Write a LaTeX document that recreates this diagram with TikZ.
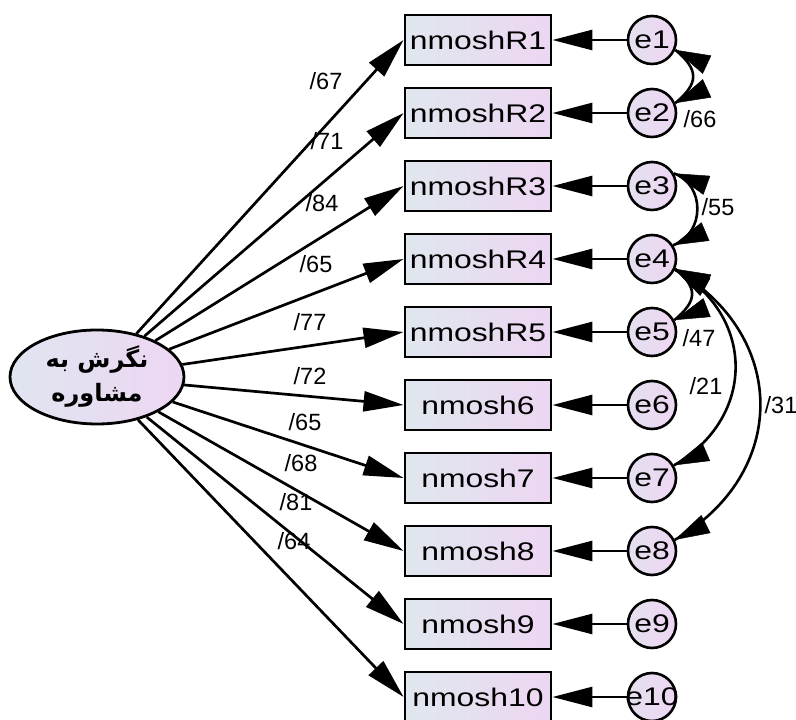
\documentclass[tikz,border=0pt]{standalone}
\usepackage{fontspec}
\setmainfont{Liberation Sans}
\newfontfamily\widefont[FakeStretch=1.25]{Liberation Sans}
\newfontfamily\arabicfont[Script=Arabic]{DejaVu Sans}
\TeXXeTstate=1
\usetikzlibrary{arrows.meta,calc,shapes.geometric}

\definecolor{boxL}{RGB}{224,231,238}
\definecolor{boxR}{RGB}{237,214,242}
\definecolor{errL}{RGB}{228,224,240}
\definecolor{errR}{RGB}{238,214,242}
\definecolor{latL}{RGB}{224,229,240}
\definecolor{latR}{RGB}{237,214,242}

\tikzset{
  obs/.style={draw, line width=2.9pt, left color=boxL, right color=boxR,
    minimum width=146pt, minimum height=50pt, inner sep=0pt,
    font=\widefont\fontsize{25.5}{30}\selectfont},
  err/.style={circle, draw, line width=2.6pt, left color=errL, right color=errR,
    minimum size=48pt, inner sep=0pt,
    font=\widefont\fontsize{25.5}{30}\selectfont},
  lat/.style={ellipse, draw, line width=2.8pt, left color=latL, right color=latR,
    minimum width=174pt, minimum height=94pt, inner sep=0pt, align=center,
    font=\arabicfont\bfseries\fontsize{24}{34}\selectfont},
  arr/.style={line width=2.7pt, -{Triangle[length=40pt,width=20pt]}},
  cov/.style={line width=2.6pt},
  covtip/.style={line width=0.5pt, -{Triangle[length=35pt,width=20pt]}},
  lbl/.style={font=\fontsize{23.5}{27}\selectfont, inner sep=0pt},
}
\newcommand\covhead[2]{\draw[covtip] ($(#1)+(#2:35)$) -- (#1);}

\begin{document}
\begin{tikzpicture}[x=1pt,y=1pt]
\useasboundingbox (0,0) rectangle (796,720);

\node[lat] (ell) at (97,343) {\beginR نگرش به\endR\\\beginR مشاوره\endR};

\foreach \i/\name/\y in {1/nmoshR1/680, 2/nmoshR2/607, 3/nmoshR3/534, 4/nmoshR4/461,
  5/nmoshR5/388, 6/nmosh6/315, 7/nmosh7/242, 8/nmosh8/169, 9/nmosh9/96, 10/nmosh10/23}{
  \node[obs] (b\i) at (478,\y) {\name};
  \node[err] (e\i) at (652,\y) {\makebox[0pt]{e\i}};
  \draw[arr] (e\i) -- (b\i);
  \draw[arr] (ell) -- (b\i.west);
}

% loading labels
\node[lbl] (l1) at (326,639) {/67};
\node[lbl] (l2) at (327,579) {/71};
\node[lbl] (l3) at (322,517) {/84};
\node[lbl] (l4) at (316,456) {/65};
\node[lbl] (l5) at (310,398) {/77};
\node[lbl] (l6) at (310,344) {/72};
\node[lbl] (l7) at (305,298) {/65};
\node[lbl] (l8) at (301,257) {/68};
\node[lbl] (l9) at (296,218) {/81};
\node[lbl] (l10) at (294,179) {/64};

% covariances
\draw[cov] (e1.-23) to[out=-40,in=40,looseness=1.5] (e2.23);
\covhead{e1.-23}{-25}
\covhead{e2.23}{25}

\draw[cov] (e3.30) to[out=-20,in=20,looseness=1.2] (e4.33);
\covhead{e3.30}{-20}
\covhead{e4.33}{23}

\draw[cov] (e4.-23) to[out=-40,in=40,looseness=1.5] (e5.28);
\covhead{e4.-23}{-25}
\covhead{e5.28}{21}

\draw[cov] (e4.-25) to[out=-30,in=30,looseness=1.23] (e7.30);
\draw[cov] (e4.-25) to[out=-30,in=30,looseness=1.25] (e8.26);
\covhead{e4.-25}{-30}
\covhead{e7.30}{23}
\covhead{e8.26}{27}

\node[lbl] (c1) at (700,601) {/66};
\node[lbl] (c2) at (718,513) {/55};
\node[lbl] (c3) at (699,382) {/47};
\node[lbl] (c4) at (706,334) {/21};
\node[lbl] (c5) at (781,315) {/31};
\end{tikzpicture}
\end{document}
